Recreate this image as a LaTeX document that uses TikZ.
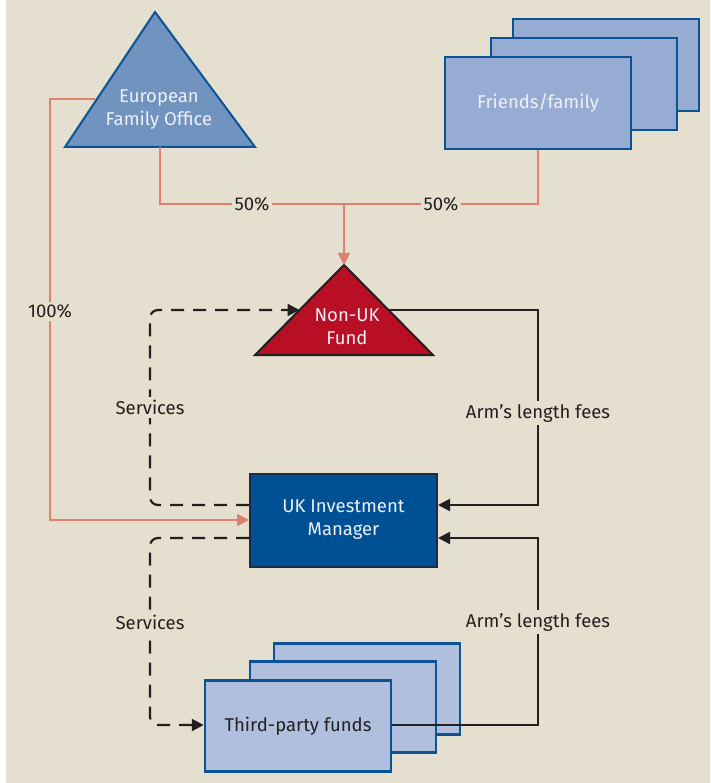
\documentclass[tikz,border=0pt]{standalone}
\usepackage{fontspec}
\setmainfont{Fira Sans}
\usetikzlibrary{arrows.meta}
\definecolor{bg}{HTML}{E5DFCF}
\definecolor{efofill}{HTML}{7193C0}
\definecolor{blueline}{HTML}{0B5394}
\definecolor{frfill}{HTML}{97ACD3}
\definecolor{nukfill}{HTML}{B80F25}
\definecolor{darkline}{HTML}{231F20}
\definecolor{ukfill}{HTML}{005095}
\definecolor{ukline}{HTML}{1E2B45}
\definecolor{tpfill}{HTML}{B0BFDD}
\definecolor{salmon}{HTML}{E0806F}
\definecolor{whitetext}{HTML}{EEF0F6}
\tikzset{
  lbl/.style={font=\fontsize{18.5}{23}\selectfont, text=darkline, fill=bg, inner sep=3pt},
  intext/.style={font=\fontsize{18.5}{23}\selectfont, text=whitetext, align=center},
  frbox/.style={draw=blueline, line width=2.5pt, fill=frfill, minimum width=186pt, minimum height=92pt, inner sep=0pt},
  tpbox/.style={draw=blueline, line width=2.5pt, fill=tpfill, minimum width=186pt, minimum height=91pt, inner sep=0pt},
  own/.style={draw=salmon, line width=2pt, -{Triangle[length=12pt,width=12pt]}},
  ownline/.style={draw=salmon, line width=2pt},
  fee/.style={draw=darkline, line width=2pt, -{Triangle[length=12pt,width=12pt]}},
  svc/.style={draw=darkline, line width=2.2pt, dash pattern=on 13pt off 9pt, rounded corners=8pt, -{Triangle[length=12pt,width=12pt]}}
}
\begin{document}
\begin{tikzpicture}[x=1pt,y=-1pt]
\useasboundingbox (0,0) rectangle (710,783);
\fill[white] (0,0) rectangle (710,783);
\fill[bg] (6,0) rectangle (710,783);
% European Family Office triangle
\coordinate (efoTop) at (155,12);
\coordinate (efoBL) at (65,147);
\coordinate (efoBR) at (255,147);
\coordinate (efoBot) at (160,147);
\coordinate (efoL) at (95,99);
\draw[blueline, fill=efofill, line width=2pt, line join=miter] (efoTop) -- (efoBR) -- (efoBL) -- cycle;
\node[intext] (efo) at (159,110) {European\\Family Office};
% Friends/family stack
\node[frbox] (fr3) at (606,65) {};
\node[frbox] (fr2) at (584,84) {};
\node[frbox, text=whitetext, font=\fontsize{18.5}{23}\selectfont] (fr) at (538,103) {Friends/family};
% Non-UK Fund triangle
\coordinate (nukTop) at (344,265);
\coordinate (nukBL) at (255,355);
\coordinate (nukBR) at (433,355);
\coordinate (nukL) at (299.5,310);
\coordinate (nukR) at (388.5,310);
\draw[darkline, fill=nukfill, line width=2pt, line join=miter] (nukTop) -- (nukBR) -- (nukBL) -- cycle;
\node[intext] (nuk) at (347,327) {Non-UK\\Fund};
% UK Investment Manager
\node[draw=ukline, fill=ukfill, line width=2pt, minimum width=187pt, minimum height=93pt, intext] (ukim) at (343.5,520) {UK Investment\\Manager};
% Third-party funds stack
\node[tpbox] (tp3) at (367,689) {};
\node[tpbox] (tp2) at (343,707) {};
\node[tpbox, font=\fontsize{18.5}{23}\selectfont, text=darkline] (tp) at (298,726) {Third-party funds};
% helper coordinates
\coordinate (junc) at (344,204);
\coordinate (y725) at (0,725);
\coordinate (c100a) at (50,99);
\coordinate (c100b) at (50,520);
\coordinate (s1a) at (150,505);
\coordinate (s1b) at (150,310);
\coordinate (s2a) at (150,538);
\coordinate (s2b) at (150,725);
\coordinate (f1a) at (538,310);
\coordinate (f1b) at (538,505);
\coordinate (f2a) at (538,725);
\coordinate (f2b) at (538,538);
% ownership lines
\draw[ownline] (efoBot) |- node[pos=0.75, lbl] {50\%} (junc);
\draw[ownline] (fr.south) |- node[pos=0.75, lbl] {50\%} (junc);
\draw[own] (junc) -- (nukTop);
\draw[own] (efoL) -- (c100a) -- node[pos=0.505, lbl] {100\%} (c100b) -- (ukim.west);
% services
\draw[svc] ([yshift=15pt]ukim.west) -- (s1a) -- node[pos=0.5, lbl] {Services} (s1b) -- (nukL);
\draw[svc] ([yshift=-18pt]ukim.west) -- (s2a) -- node[pos=0.45, lbl] {Services} (s2b) -- (tp.west |- y725);
% fees
\draw[fee] (nukR) -- (f1a) -- node[pos=0.53, lbl] {Arm’s length fees} (f1b) -- ([yshift=15pt]ukim.east);
\draw[fee] (tp.east |- y725) -- (f2a) -- node[pos=0.55, lbl] {Arm’s length fees} (f2b) -- ([yshift=-18pt]ukim.east);
\end{tikzpicture}
\end{document}
